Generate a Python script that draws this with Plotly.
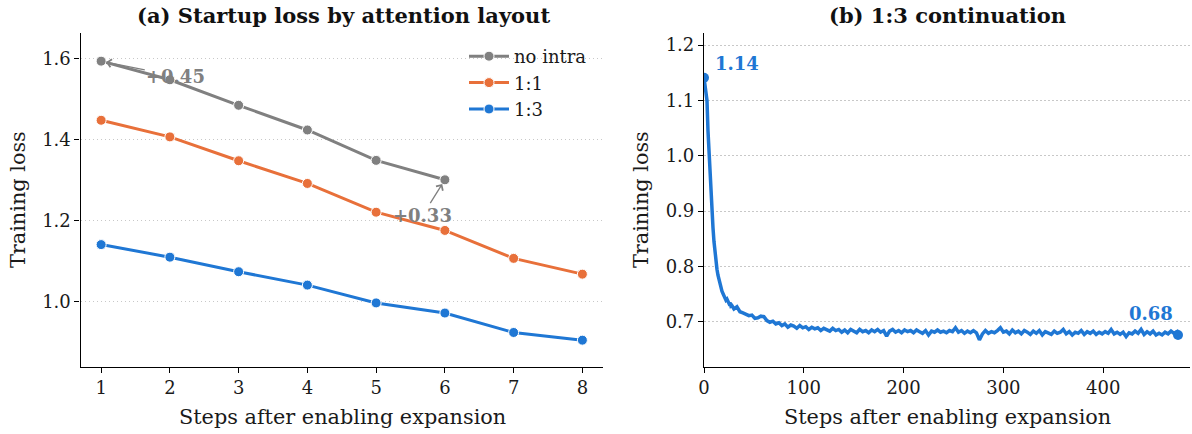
import plotly.graph_objects as go

# ---------------- data ----------------
steps_a = [1, 2, 3, 4, 5, 6, 7, 8]
loss_no_intra = [1.593, 1.547, 1.484, 1.423, 1.348, 1.300]
loss_1_1 = [1.447, 1.406, 1.347, 1.291, 1.220, 1.175, 1.106, 1.067]
loss_1_3 = [1.140, 1.109, 1.073, 1.040, 0.996, 0.971, 0.923, 0.904]
series_names = ["no intra", "1:1", "1:3"]

steps_b = list(range(0, 30)) + list(range(30, 475, 3)) + [475]
loss_b = [
    1.141, 1.128, 1.112, 1.100, 1.045, 1.005, 0.965, 0.930, 0.900, 0.870,
    0.845, 0.824, 0.808, 0.795, 0.784, 0.776, 0.767, 0.762, 0.755, 0.751,
    0.746, 0.744, 0.739, 0.741, 0.734, 0.733, 0.735, 0.728, 0.729, 0.724,
    0.723, 0.727, 0.718, 0.716, 0.713, 0.711, 0.712, 0.706, 0.707, 0.710,
    0.709, 0.702, 0.699, 0.701, 0.696, 0.698, 0.693, 0.696, 0.690, 0.694,
    0.692, 0.688, 0.693, 0.689, 0.691, 0.686, 0.690, 0.687, 0.689, 0.684,
    0.688, 0.686, 0.683, 0.688, 0.684, 0.686, 0.681, 0.685, 0.680, 0.686,
    0.683, 0.680, 0.686, 0.682, 0.684, 0.680, 0.685, 0.682, 0.686, 0.681,
    0.684, 0.674, 0.683, 0.686, 0.681, 0.684, 0.680, 0.685, 0.682, 0.684,
    0.680, 0.685, 0.682, 0.679, 0.684, 0.676, 0.683, 0.681, 0.685, 0.681,
    0.683, 0.680, 0.684, 0.682, 0.689, 0.681, 0.684, 0.679, 0.683, 0.680,
    0.684, 0.680, 0.667, 0.678, 0.684, 0.679, 0.682, 0.680, 0.684, 0.689,
    0.681, 0.683, 0.678, 0.685, 0.680, 0.683, 0.678, 0.684, 0.681, 0.677,
    0.683, 0.679, 0.684, 0.676, 0.682, 0.680, 0.677, 0.683, 0.679, 0.681,
    0.686, 0.678, 0.682, 0.676, 0.681, 0.679, 0.684, 0.677, 0.682, 0.679,
    0.683, 0.677, 0.681, 0.678, 0.682, 0.679, 0.686, 0.678, 0.681, 0.677,
    0.681, 0.673, 0.680, 0.678, 0.683, 0.679, 0.686, 0.677, 0.682, 0.678,
    0.683, 0.676, 0.679, 0.676, 0.681, 0.678, 0.683, 0.679, 0.682,
    0.676,
]

x_ticks_a = [1, 2, 3, 4, 5, 6, 7, 8]
y_ticks_a = [1.0, 1.2, 1.4, 1.6]
x_ticks_b = [0, 100, 200, 300, 400]
y_ticks_b = [0.7, 0.8, 0.9, 1.0, 1.1, 1.2]

GRAY = "#808080"
ORANGE = "#E8703A"
BLUE = "#1F77D4"
FONT = "DejaVu Serif"
TXT = "#1a1a1a"

W, H = 1192, 434

def px_x(p):
    return p / W

def px_y(p):
    return 1 - p / H

fig = go.Figure()

for name, ys, col in zip(series_names, [loss_no_intra, loss_1_1, loss_1_3], [GRAY, ORANGE, BLUE]):
    fig.add_trace(go.Scatter(
        x=steps_a[:len(ys)], y=ys, name=name, mode="lines+markers",
        line=dict(color=col, width=3),
        marker=dict(size=10, color=col, line=dict(color="white", width=1)),
        xaxis="x", yaxis="y",
    ))

fig.add_trace(go.Scatter(
    x=steps_b, y=loss_b, mode="lines", showlegend=False,
    line=dict(color=BLUE, width=3.5), xaxis="x2", yaxis="y2",
))
fig.add_trace(go.Scatter(
    x=[steps_b[0], steps_b[-1]], y=[loss_b[0], loss_b[-1]], mode="markers",
    showlegend=False, marker=dict(size=10, color=BLUE), xaxis="x2", yaxis="y2",
))

axis_common = dict(
    showline=True, linecolor="black", linewidth=1.2, mirror=False,
    ticks="outside", ticklen=5, tickwidth=1.2, tickcolor="black",
    tickfont=dict(family=FONT, size=18, color=TXT),
    zeroline=False, automargin=False,
)
grid_style = dict(showgrid=True, gridcolor="#c8c8c8", griddash="1.5px,2.5px", gridwidth=1.2)
ydom = [px_y(366.5), px_y(33)]

fig.update_layout(
    width=W, height=H,
    margin=dict(l=0, r=0, t=0, b=0),
    plot_bgcolor="white", paper_bgcolor="white",
    font=dict(family=FONT, color=TXT),
    xaxis=dict(domain=[px_x(80.5), px_x(603)], range=[0.7, 8.3], tickvals=x_ticks_a,
               showgrid=False, anchor="y", **axis_common),
    yaxis=dict(domain=ydom, range=[0.839, 1.6625], tickvals=y_ticks_a, tickformat=".1f",
               anchor="x", **grid_style, **axis_common),
    xaxis2=dict(domain=[px_x(704), px_x(1190)], range=[0, 487], tickvals=x_ticks_b,
                showgrid=False, anchor="y2", **axis_common),
    yaxis2=dict(domain=ydom, range=[0.619, 1.222], tickvals=y_ticks_b, tickformat=".1f",
                anchor="x2", **grid_style, **axis_common),
    legend=dict(x=px_x(592), y=px_y(38), xanchor="right", yanchor="top",
                bgcolor="rgba(0,0,0,0)", font=dict(family=FONT, size=18, color=TXT),
                itemwidth=40, tracegroupgap=4),
    showlegend=True,
)

ann = []
# titles
ann.append(dict(text="<b>(a) Startup loss by attention layout</b>", x=px_x(343), y=px_y(16),
                xref="paper", yref="paper", showarrow=False, xanchor="center", yanchor="middle",
                font=dict(family=FONT, size=21, color="#111")))
ann.append(dict(text="<b>(b) 1:3 continuation</b>", x=px_x(947), y=px_y(16),
                xref="paper", yref="paper", showarrow=False, xanchor="center", yanchor="middle",
                font=dict(family=FONT, size=21, color="#111")))
# axis titles
for cx in (342, 947):
    ann.append(dict(text="Steps after enabling expansion", x=px_x(cx), y=px_y(417),
                    xref="paper", yref="paper", showarrow=False, xanchor="center", yanchor="middle",
                    font=dict(family=FONT, size=20.8, color=TXT)))
for cx in (18, 641):
    ann.append(dict(text="Training loss", x=px_x(cx), y=px_y(200), textangle=-90,
                    xref="paper", yref="paper", showarrow=False, xanchor="center", yanchor="middle",
                    font=dict(family=FONT, size=20.8, color=TXT)))
# delta annotations
d1 = loss_no_intra[0] - loss_1_3[0]
d2 = loss_no_intra[5] - loss_1_3[5]
ann.append(dict(text=f"<b>+{d1:.2f}</b>", x=steps_a[0], y=loss_no_intra[0], xref="x", yref="y",
                ax=2.086, ay=1.556, axref="x", ayref="y", showarrow=True, arrowhead=4,
                arrowsize=1.2, arrowwidth=1.3, arrowcolor=GRAY, standoff=5,
                font=dict(family=FONT, size=18, color=GRAY)))
ann.append(dict(text=f"<b>+{d2:.2f}</b>", x=steps_a[5], y=loss_no_intra[5], xref="x", yref="y",
                ax=5.678, ay=1.213, axref="x", ayref="y", showarrow=True, arrowhead=4,
                arrowsize=1.2, arrowwidth=1.3, arrowcolor=GRAY, standoff=5,
                font=dict(family=FONT, size=18, color=GRAY)))
# endpoint labels panel b
ann.append(dict(text=f"<b>{loss_b[0]:.2f}</b>", x=33, y=1.166, xref="x2", yref="y2",
                showarrow=False, font=dict(family=FONT, size=18, color=BLUE)))
ann.append(dict(text=f"<b>{loss_b[-1]:.2f}</b>", x=448, y=0.7157, xref="x2", yref="y2",
                showarrow=False, font=dict(family=FONT, size=18, color=BLUE)))

fig.update_layout(annotations=ann)
fig.write_html("out.html", config={"displayModeBar": False},
               post_script="document.body.style.margin='0';document.body.style.overflow='hidden';")
